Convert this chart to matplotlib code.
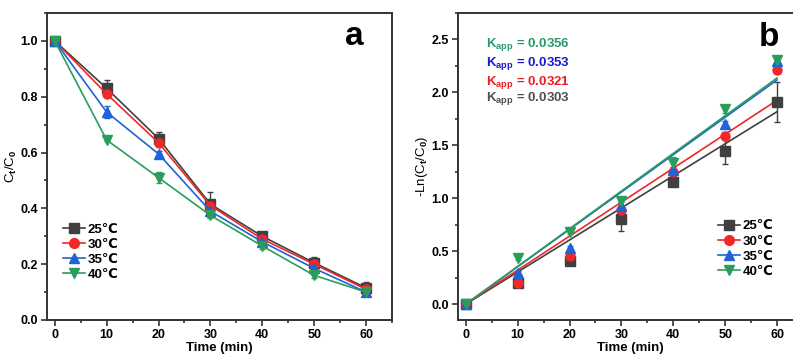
import numpy as np
import matplotlib
matplotlib.use("Agg")
import matplotlib.pyplot as plt
from matplotlib.lines import Line2D
from matplotlib.ticker import MultipleLocator

plt.rcParams['font.family'] = ['Liberation Sans', 'DejaVu Sans']
plt.rcParams['font.weight'] = 'bold'
plt.rcParams['mathtext.fontset'] = 'custom'
plt.rcParams['mathtext.rm'] = 'Liberation Sans:bold'
plt.rcParams['mathtext.it'] = 'Liberation Sans:bold'
plt.rcParams['mathtext.bf'] = 'Liberation Sans:bold'

# data
time = [0, 10, 20, 30, 40, 50, 60]
labels = ['25℃', '30℃', '35℃', '40℃']
colors = ['#404040', '#f02828', '#1f63d6', '#2a9d5a']
markers = ['s', 'o', '^', 'v']

ratio_25 = [1.0, 0.83, 0.65, 0.415, 0.30, 0.205, 0.115]
ratio_30 = [1.0, 0.81, 0.635, 0.41, 0.29, 0.20, 0.11]
ratio_35 = [1.0, 0.745, 0.595, 0.39, 0.28, 0.185, 0.10]
ratio_40 = [1.0, 0.645, 0.51, 0.375, 0.265, 0.16, 0.10]
ratio_err_25 = [0, 0.03, 0.025, 0.045, 0.01, 0.02, 0.02]
ratio_err_30 = [0, 0.01, 0.01, 0.01, 0.01, 0.015, 0.01]
ratio_err_35 = [0, 0.02, 0.01, 0.01, 0.01, 0.01, 0.01]
ratio_err_40 = [0, 0.005, 0.02, 0.01, 0.01, 0.01, 0.01]

lnr_25 = [0, 0.20, 0.41, 0.80, 1.15, 1.45, 1.91]
lnr_30 = [0, 0.20, 0.45, 0.89, 1.25, 1.59, 2.21]
lnr_35 = [0, 0.29, 0.53, 0.93, 1.27, 1.70, 2.30]
lnr_40 = [0, 0.44, 0.68, 0.97, 1.33, 1.84, 2.31]
lnr_err_25 = [0, 0.02, 0.02, 0.11, 0.03, 0.13, 0.19]
lnr_err_30 = [0, 0.02, 0.02, 0.03, 0.03, 0.04, 0.03]
lnr_err_35 = [0, 0.02, 0.02, 0.03, 0.03, 0.03, 0.03]
lnr_err_40 = [0, 0.02, 0.02, 0.03, 0.06, 0.03, 0.03]

kapp = [0.0303, 0.0321, 0.0353, 0.0356]
kapp_text_colors = ['#505050', '#e82020', '#1a1ad0', '#2a9a6a']

ratios = [ratio_25, ratio_30, ratio_35, ratio_40]
ratio_errs = [ratio_err_25, ratio_err_30, ratio_err_35, ratio_err_40]
lnrs = [lnr_25, lnr_30, lnr_35, lnr_40]
lnr_errs = [lnr_err_25, lnr_err_30, lnr_err_35, lnr_err_40]

fig = plt.figure(figsize=(7.93, 3.54), dpi=100)
ax1 = fig.add_axes([47/793, 1-320/354, 345/793, 307/354])
ax2 = fig.add_axes([458/793, 1-320/354, 345/793, 307/354])


def style(ax):
    for s in ax.spines.values():
        s.set_linewidth(1.4)
        s.set_color('#333333')
    ax.tick_params(which='both', direction='out', width=1.2, colors='#333333',
                   labelsize=9, labelcolor='black', pad=2.5)
    ax.tick_params(which='major', length=4)
    ax.tick_params(which='minor', length=2.5)
    ax.xaxis.set_major_locator(MultipleLocator(10))
    ax.xaxis.set_minor_locator(MultipleLocator(5))
    ax.set_xlabel('Time (min)', fontsize=9.5, fontweight='bold', labelpad=1)


def legend_handles():
    return [Line2D([], [], color=c, marker=m, ms=7, lw=1.2)
            for c, m in zip(colors, markers)]


# panel a
for y, e, c, m in zip(ratios, ratio_errs, colors, markers):
    ax1.errorbar(time, y, yerr=e, color=c, marker=m, ms=6.5, lw=1.2,
                 capsize=2.5, elinewidth=1, capthick=1)
ax1.set_xlim(-1.5, 65)
ax1.set_ylim(0, 1.1)
ax1.yaxis.set_major_locator(MultipleLocator(0.2))
ax1.yaxis.set_minor_locator(MultipleLocator(0.1))
ax1.set_ylabel('C$_t$/C$_0$', fontsize=9.5, labelpad=1)
style(ax1)
ax1.legend(legend_handles(), labels, loc='lower left',
           bbox_to_anchor=(0.03, 0.11), frameon=False, fontsize=9.5,
           handlelength=1.7, labelspacing=0.22, handletextpad=0.2,
           borderaxespad=0)
ax1.text(0.89, 0.925, 'a', transform=ax1.transAxes, fontsize=24,
         fontweight='bold', ha='center', va='center')

# panel b
t_fit = np.array([0, 60])
for y, e, c, m, k in zip(lnrs, lnr_errs, colors, markers, kapp):
    ax2.errorbar(time, y, yerr=e, color=c, marker=m, ms=6.5, ls='none',
                 capsize=2.5, elinewidth=1, capthick=1)
    ax2.plot(t_fit, k * t_fit, color=c, lw=1.2)
ax2.set_xlim(-1.5, 65)
ax2.set_ylim(-0.15, 2.75)
ax2.yaxis.set_major_locator(MultipleLocator(0.5))
ax2.yaxis.set_minor_locator(MultipleLocator(0.25))
ax2.set_ylabel('-Ln(C$_t$/C$_0$)', fontsize=9.5, labelpad=1)
style(ax2)
ax2.legend(legend_handles(), labels, loc='lower right',
           bbox_to_anchor=(0.93, 0.12), frameon=False, fontsize=9.5,
           handlelength=1.7, labelspacing=0.22, handletextpad=0.2,
           borderaxespad=0)
ax2.text(0.90, 0.92, 'b', transform=ax2.transAxes, fontsize=24,
         fontweight='bold', ha='center', va='center')

ypos = [0.72, 0.775, 0.837, 0.899]
for k, c, yp in zip(kapp, kapp_text_colors, ypos):
    ax2.text(0.081, yp, 'K$_{app}$ = %.4f' % k, transform=ax2.transAxes,
             color=c, fontsize=9.5, fontweight='bold', va='center', ha='left')

fig.savefig('out.png', dpi=100)
